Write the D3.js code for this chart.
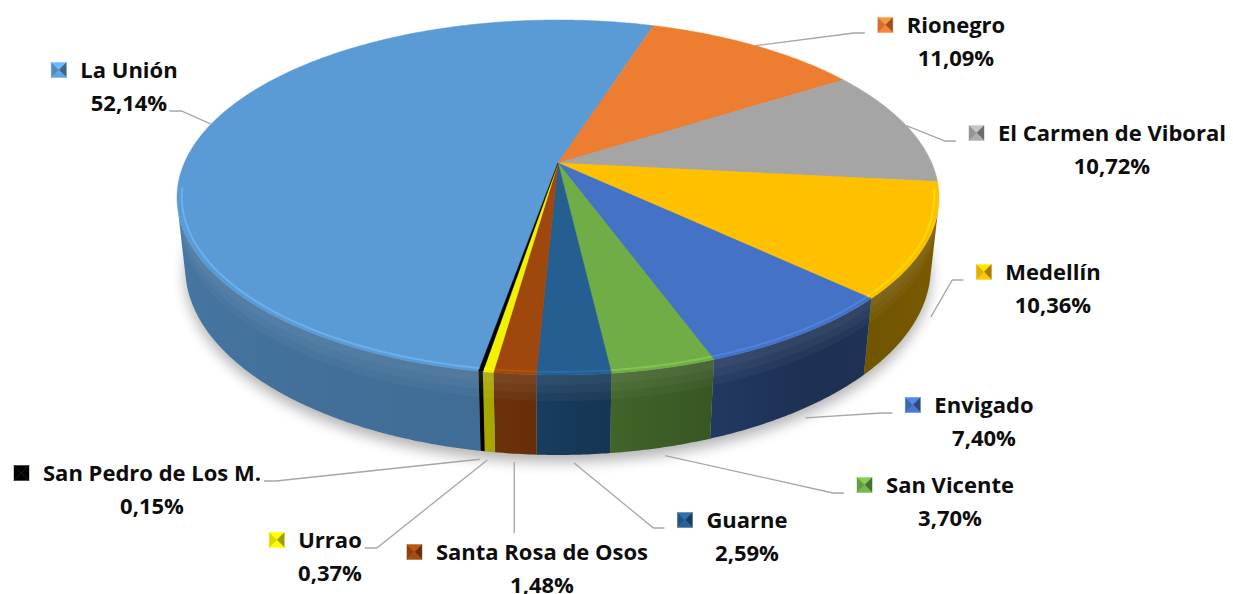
<!DOCTYPE html>
<html lang="es">

<head>
  <meta charset="UTF-8">
  <title>Distribución por municipio</title>
  <script src="https://d3js.org/d3.v7.min.js"></script>
  <style>
    body {
      margin: 0;
      background: #ffffff;
    }

    .label {
      font-family: "Open Sans", Lato, sans-serif;
      font-weight: 700;
      font-size: 22px;
      fill: #0d0d0d;
    }

    .leader {
      fill: none;
      stroke: #a6a6a6;
      stroke-width: 1.3;
    }
  </style>
</head>

<body>
  <svg class="chart" width="1233" height="594"></svg>

  <script>
    const names = ["La Unión", "Rionegro", "El Carmen de Viboral", "Medellín", "Envigado",
      "San Vicente", "Guarne", "Santa Rosa de Osos", "Urrao", "San Pedro de Los M."];
    const values = [52.14, 11.09, 10.72, 10.36, 7.40, 3.70, 2.59, 1.48, 0.37, 0.15];
    const colors = ["#5b9bd5", "#ed7d31", "#a5a5a5", "#ffc000", "#4472c4",
      "#70ad47", "#255e91", "#9e480e", "#f2f200", "#000000"];

    // label placement: centre x of the name, centre y of the name, side the leader comes from
    const labelLayout = {
      "La Unión": { cx: 129, cy: 70, side: "left", onPct: true },
      "Rionegro": { cx: 956, cy: 25, side: "right" },
      "El Carmen de Viboral": { cx: 1112, cy: 133, side: "right" },
      "Medellín": { cx: 1053, cy: 272, side: "right" },
      "Envigado": { cx: 984, cy: 405, side: "right" },
      "San Vicente": { cx: 950, cy: 485, side: "right" },
      "Guarne": { cx: 747, cy: 520, side: "right" },
      "Santa Rosa de Osos": { cx: 542, cy: 552, side: "top" },
      "Urrao": { cx: 330, cy: 540, side: "left" },
      "San Pedro de Los M.": { cx: 152, cy: 473, side: "left" }
    };

    const rad = Math.PI / 180;
    const firstAngle = 17.6 * rad - values[0] * 3.6 * rad;

    // perspective view of the pie
    const cx = 558, cy = 163;
    const focal = 1709.6, r = 0.2186, depth = 0.0464;
    const elev = 27.2 * rad, sinE = Math.sin(elev), cosE = Math.cos(elev);

    function project(phi, z, rf = 1) {
      const x = r * rf * Math.sin(phi);
      const y = r * rf * Math.cos(phi);
      const up = y * sinE - depth * z * cosE;
      const dist = 1 + y * cosE + depth * z * sinE;
      return [cx + focal * x / dist, cy - focal * up / dist];
    }

    function arcPoints(a0, a1, z, rf = 1) {
      const n = Math.max(2, Math.ceil((a1 - a0) / (0.5 * rad)));
      return d3.range(n + 1).map(i => project(a0 + (a1 - a0) * i / n, z, rf));
    }

    const locale = d3.formatLocale({ decimal: ",", thousands: ".", grouping: [3], currency: ["", ""] });
    const pctFmt = d => locale.format(".2f")(d) + "%";

    const color = d3.scaleOrdinal().domain(names).range(colors);
    // darkening of the side wall, by angle (degrees)
    const shade = d3.scaleLinear().domain([90, 146, 190, 270]).range([1.9, 2.4, 1.0, 0.7]).clamp(true);

    const pie = d3.pie().sort(null).value(d => d.value)
      .startAngle(firstAngle).endAngle(firstAngle + 2 * Math.PI);

    const data = names.map((name, i) => ({ name, value: values[i] }));
    const arcs = pie(data).map(a => {
      let s = a.startAngle, e = a.endAngle;
      if (s < 0) { s += 2 * Math.PI; e += 2 * Math.PI; }
      return { ...a, s, e, mid: (s + e) / 2 };
    });

    const svg = d3.select(".chart");
    const line = d3.line();

    const defs = svg.append("defs");
    defs.append("filter").attr("id", "soft")
      .attr("x", "-20%").attr("y", "-20%").attr("width", "140%").attr("height", "140%")
      .append("feGaussianBlur").attr("stdDeviation", 7);

    // shadow under the pie
    svg.append("path")
      .attr("d", line(arcPoints(0, 2 * Math.PI, 1)) + "Z")
      .attr("transform", "translate(0,7)")
      .attr("fill", "#000")
      .attr("opacity", 0.3)
      .attr("filter", "url(#soft)");

    // side walls, visible part only, shaded with a horizontal gradient
    const vis0 = 104 * rad, vis1 = 256 * rad;
    const walls = svg.append("g");
    arcs.forEach((a, i) => {
      const s = Math.max(a.s, vis0), e = Math.min(a.e, vis1);
      if (e <= s) return;
      const top = arcPoints(s, e, 0);
      const bottom = arcPoints(s, e, 1).reverse();
      const xs = top.map(p => p[0]);
      const x0 = d3.min(xs), x1 = d3.max(xs);
      const steps = Math.max(2, Math.ceil((e - s) / (3 * rad)));
      const stops = d3.range(steps + 1).map(k => {
        const phi = s + (e - s) * k / steps;
        const px = project(phi, 0)[0];
        return {
          offset: x1 > x0 ? (px - x0) / (x1 - x0) : 0,
          col: d3.color(color(a.data.name)).darker(shade(phi / rad)).formatHex()
        };
      }).sort((p, q) => p.offset - q.offset);

      defs.append("linearGradient")
        .attr("id", "wall" + i)
        .attr("gradientUnits", "userSpaceOnUse")
        .attr("x1", x0).attr("x2", x1 + 0.01).attr("y1", 0).attr("y2", 0)
        .selectAll("stop")
        .data(stops)
        .join("stop")
        .attr("offset", d => d.offset)
        .attr("stop-color", d => d.col);

      walls.append("path")
        .attr("d", line(top.concat(bottom)) + "Z")
        .attr("fill", `url(#wall${i})`);
      // soft lighter bevel at the top of the wall
      [0.12, 0.22, 0.32].forEach(z => {
        walls.append("path")
          .attr("d", line(top.concat(arcPoints(s, e, z).reverse())) + "Z")
          .attr("fill", "#fff")
          .attr("opacity", 0.035);
      });
    });

    // top faces
    svg.append("g").selectAll("path")
      .data(arcs)
      .join("path")
      .attr("d", a => line([[cx, cy], ...arcPoints(a.s, a.e, 0)]) + "Z")
      .attr("fill", a => color(a.data.name))
      .attr("stroke", a => color(a.data.name))
      .attr("stroke-width", 0.5);

    // highlight along the front rim
    svg.append("g").selectAll("path")
      .data(arcs.filter(a => Math.min(a.e, 262 * rad) > Math.max(a.s, 98 * rad)))
      .join("path")
      .attr("d", a => line(arcPoints(Math.max(a.s, 98 * rad), Math.min(a.e, 262 * rad), 0, 0.988)))
      .attr("fill", "none")
      .attr("stroke", a => d3.color(color(a.data.name)).brighter(0.6))
      .attr("stroke-width", 2)
      .attr("opacity", 0.6);

    // labels
    const labels = svg.append("g");
    arcs.forEach(a => {
      const name = a.data.name;
      const lay = labelLayout[name];
      const base = color(name);
      const g = labels.append("g");

      const nameText = g.append("text")
        .attr("class", "label")
        .attr("x", lay.cx)
        .attr("y", lay.cy + 8)
        .attr("text-anchor", "middle")
        .text(name);
      const pctText = g.append("text")
        .attr("class", "label")
        .attr("x", lay.cx)
        .attr("y", lay.cy + 41)
        .attr("text-anchor", "middle")
        .text(pctFmt(a.data.value));

      const nb = nameText.node().getBBox();
      const pb = pctText.node().getBBox();
      const kx = nb.x - 29, ky = lay.cy - 7.5, ks = 15;
      const key = g.append("g").attr("transform", `translate(${kx},${ky})`);
      const tris = [
        [[0, 0], [ks, 0], [ks / 2, ks / 2], d3.color(base).brighter(0.5)],
        [[ks, 0], [ks, ks], [ks / 2, ks / 2], d3.color(base).darker(1.2)],
        [[0, ks], [ks, ks], [ks / 2, ks / 2], d3.color(base).brighter(0.15)],
        [[0, 0], [0, ks], [ks / 2, ks / 2], d3.color(base).darker(0.3)]
      ];
      key.selectAll("path")
        .data(tris)
        .join("path")
        .attr("d", t => line(t.slice(0, 3)) + "Z")
        .attr("fill", t => t[3])
        .attr("stroke", t => t[3])
        .attr("stroke-width", 0.4);

      // leader line from the slice to the label
      const front = Math.cos(a.mid) < -0.3;
      const start = front ? project(a.mid, 1, 1.03) : project(a.mid, 0, 1.0);
      let pts;
      const baseY = lay.cy + 8;
      if (lay.side === "right") {
        const end = [kx - 13, baseY];
        pts = [start, [end[0] - 11, end[1]], end];
      } else if (lay.side === "left") {
        const end = lay.onPct ? [pb.x + pb.width + 2, lay.cy + 41] : [nb.x + nb.width + 3, baseY];
        pts = [start, [end[0] + 12, end[1]], end];
      } else {
        pts = [start, [start[0], lay.cy - 19]];
      }
      svg.insert("path", "g:last-child")
        .attr("class", "leader")
        .attr("d", line(pts));
    });
  </script>

</body>

</html>
